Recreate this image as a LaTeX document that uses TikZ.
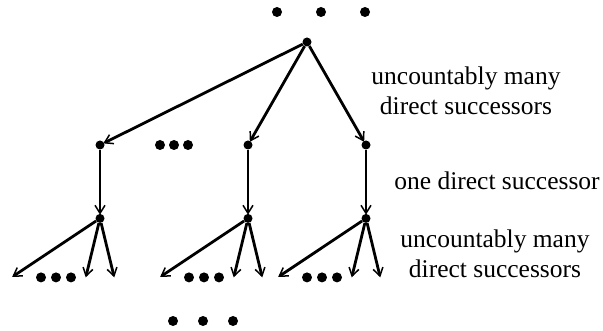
\documentclass[tikz,border=0pt]{standalone}
\usepackage{fontspec}
\setmainfont{Liberation Serif}
\usepackage{tikz}
\usetikzlibrary{arrows.meta,positioning,calc}

\tikzset{
  vtx/.style={circle,fill=black,inner sep=0pt,minimum size=9pt},
  ell/.style={circle,fill=black,inner sep=0pt,minimum size=10pt},
  edge/.style={line width=2.8pt,shorten >=-1pt,-{Straight Barb[length=8pt,width=10pt,line width=1.5pt]}},
  lbl/.style={align=center,font=\fontsize{25.5}{30}\selectfont}
}

\begin{document}
\begin{tikzpicture}[x=1pt,y=1pt]
			\useasboundingbox (0,0) rectangle (603,-331);
			
			% root and the dots above it
			\node[vtx] (root) at (307,-42) {};
			\foreach \i/\x in {1/277,2/321,3/365}
				\node[ell] (top\i) at (\x,-12) {};
			
			% first level
			\node[vtx] (a1) at (100,-145) {};
			\node[vtx] (a2) at (248,-145) {};
			\node[vtx] (a3) at (366,-145) {};
			\foreach \i/\x in {1/160,2/174,3/188}
				\node[ell] (mid\i) at (\x,-145) {};
			
			\draw[edge] (root) -- (a1);
			\draw[edge] (root) -- (a2);
			\draw[edge] (root) -- (a3);
			
			% second level
			\foreach \k in {1,2,3} {
				\node[vtx,below=64pt of a\k] (b\k) {};
				\draw[edge] (a\k) -- (b\k);
				\coordinate (l\k) at ($(b\k)+(-87,-58)$);
				\coordinate (m\k) at ($(b\k)+(-14,-58)$);
				\coordinate (r\k) at ($(b\k)+(14,-58)$);
				\draw[edge] (b\k) -- (l\k);
				\draw[edge] (b\k) -- (m\k);
				\draw[edge] (b\k) -- (r\k);
				\foreach \j/\dx in {1/-59,2/-44,3/-29}
					\node[ell] (d\k\j) at ($(b\k)+(\dx,-59)$) {};
			}
			
			% dots below
			\foreach \i/\x in {1/173,2/203,3/233}
				\node[ell] (bot\i) at (\x,-321) {};
			
			% labels
			\node[lbl] (t1) at (466,-91) {uncountably many\\direct successors};
			\node[lbl] (t2) at (497,-181) {one direct successor};
			\node[lbl] (t3) at (495,-254) {uncountably many\\direct successors};
			
		\end{tikzpicture}
\end{document}
